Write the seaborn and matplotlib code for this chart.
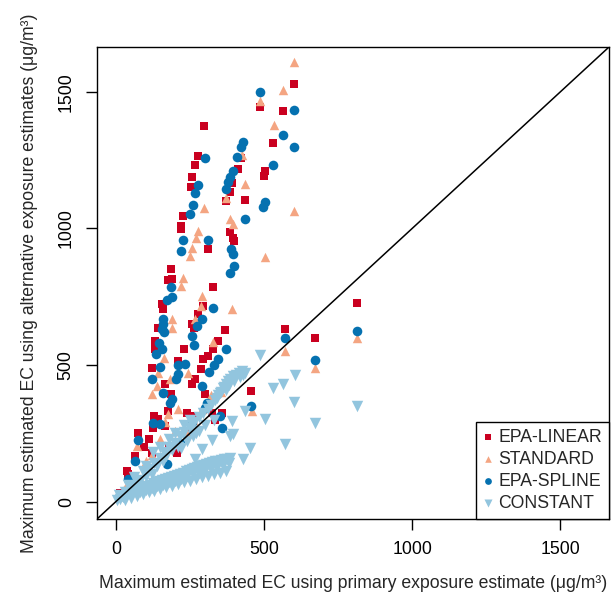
import matplotlib
matplotlib.use("Agg")
import matplotlib.pyplot as plt
import pandas as pd
import seaborn as sns

# (primary estimate, alternative estimate) pairs, µg/m3
EPA_LINEAR = [
    (602, 1529), (486, 1444), (565, 1431), (298, 1374), (531, 1312), (276, 1266),
    (422, 1257), (267, 1232), (413, 1217), (503, 1209), (498, 1193), (258, 1189),
    (393, 1166), (252, 1153), (385, 1132), (371, 1101), (436, 1104), (227, 1046),
    (218, 1010), (218, 997), (385, 985), (396, 963), (399, 955), (312, 924),
    (186, 853), (188, 814), (175, 812), (327, 784), (293, 714), (154, 722),
    (160, 704), (276, 686), (256, 649), (264, 637), (143, 637), (368, 628),
    (132, 588), (346, 588), (132, 557), (231, 557), (329, 557), (312, 533),
    (210, 515), (295, 521), (121, 487), (287, 484), (267, 447), (256, 429),
    (166, 429), (186, 392), (312, 356), (357, 325), (129, 313), (166, 276),
    (267, 313), (75, 252), (64, 166), (42, 99), (14, 32), (143, 301),
    (126, 270), (177, 331), (239, 325), (244, 252), (205, 178), (323, 325),
    (455, 404), (430, 478), (571, 631), (672, 597), (815, 725), (36, 111),
    (180, 205), (121, 178), (335, 300), (300, 395), (95, 200), (110, 230),
]

STANDARD = [
    (602, 1609), (565, 1505), (486, 1468), (534, 1379), (427, 1269), (436, 1162),
    (371, 1113), (298, 1073), (601, 1065), (385, 1034), (396, 1016), (276, 989),
    (269, 963), (258, 927), (250, 900), (503, 894), (225, 820), (220, 790),
    (290, 753), (287, 716), (393, 703), (267, 670), (188, 667), (188, 637),
    (326, 583), (571, 551), (672, 490), (815, 597), (162, 527), (143, 472),
    (244, 472), (182, 447), (137, 423), (121, 392), (177, 319), (72, 205),
    (458, 331), (100, 150), (150, 230), (200, 260), (260, 300), (320, 390),
    (355, 400), (240, 250), (120, 170), (50, 80), (30, 50), (290, 340),
    (210, 340), (165, 290),
]

EPA_SPLINE = [
    (486, 1501), (602, 1435), (565, 1342), (428, 1315), (421, 1297), (602, 1299),
    (301, 1258), (410, 1263), (531, 1232), (394, 1211), (385, 1187), (379, 1169),
    (372, 1144), (276, 1160), (267, 1128), (259, 1087), (250, 1052), (436, 1034),
    (503, 1095), (496, 1077), (227, 957), (312, 957), (218, 918), (389, 924),
    (396, 906), (399, 863), (385, 836), (187, 784), (188, 747), (171, 738),
    (326, 707), (289, 670), (160, 667), (160, 649), (154, 631), (273, 643),
    (163, 619), (256, 606), (145, 582), (264, 573), (372, 557), (154, 557),
    (134, 539), (346, 522), (208, 499), (233, 502), (331, 499), (149, 494),
    (313, 475), (210, 466), (121, 450), (203, 450), (160, 399), (188, 374),
    (301, 344), (351, 313), (126, 289), (256, 292), (73, 227), (64, 148),
    (42, 83), (149, 282), (182, 362), (216, 215), (306, 362), (357, 270),
    (456, 350), (171, 136), (571, 598), (672, 517), (815, 625), (289, 423),
]

CONSTANT = [
    # scattered
    (486, 535), (605, 462), (565, 431), (531, 417), (601, 366), (815, 350),
    (672, 286), (503, 302), (436, 331), (391, 294), (396, 246), (430, 154),
    (571, 209), (453, 197), (385, 240), (267, 154), (323, 227), (289, 191),
    # cluster above the 1:1 line
    (360, 415), (370, 430), (378, 440), (386, 450), (395, 458), (405, 465),
    (415, 472), (425, 478), (435, 470), (365, 420), (380, 425), (400, 440),
    (420, 455), (430, 462), (372, 410), (350, 398), (340, 380),
    # band along the 1:1 line
    (20, 20), (40, 35), (60, 55), (80, 75), (100, 95), (110, 120), (130, 140),
    (150, 160), (165, 180), (180, 200), (200, 215), (215, 240), (230, 255),
    (250, 270), (265, 290), (280, 310), (295, 325), (310, 340), (320, 355),
    (335, 370), (345, 390), (355, 400), (120, 100), (140, 130), (160, 150),
    (190, 190), (210, 200), (240, 220), (260, 240), (280, 260), (300, 280),
    (330, 300), (250, 300), (230, 280), (200, 250), (180, 230), (150, 200),
    (90, 110), (70, 80), (125, 180), (170, 165), (220, 195), (270, 250),
    (60, 90), (40, 60), (100, 130),
    # lower band
    (5, 5), (15, 10), (25, 15), (35, 22), (45, 30), (55, 36), (65, 42),
    (75, 46), (85, 50), (95, 54), (105, 58), (115, 62), (125, 66), (135, 70),
    (145, 74), (155, 78), (165, 82), (175, 86), (185, 90), (195, 94),
    (205, 98), (215, 102), (225, 106), (235, 110), (245, 114), (255, 118),
    (265, 122), (275, 126), (285, 130), (295, 134), (305, 138), (315, 141),
    (325, 144), (335, 147), (345, 150), (355, 152), (365, 154), (375, 156),
    (385, 158), (30, 5), (50, 12), (70, 20), (90, 28), (110, 34), (130, 40),
    (150, 46), (170, 52), (190, 58), (210, 64), (230, 70), (250, 76),
    (270, 82), (290, 88), (310, 94), (330, 100), (350, 106), (370, 112),
    (80, 36), (100, 42), (120, 48), (140, 56), (160, 62), (180, 70),
    (200, 76), (220, 84), (240, 92), (260, 100), (280, 106), (300, 114),
    (320, 120), (340, 128), (360, 134), (380, 140), (10, 25), (30, 35),
    (50, 45),
]

METHODS = ["EPA-LINEAR", "STANDARD", "EPA-SPLINE", "CONSTANT"]
SERIES = [EPA_LINEAR, STANDARD, EPA_SPLINE, CONSTANT]
COLORS = ["#CA0020", "#F4A582", "#0571B0", "#92C5DE"]
MARKERS = ["s", "^", "o", "v"]
SIZES = [38, 46, 48, 68]

TICKS = [0, 500, 1000, 1500]
LIMS = (-64, 1664)
FS = 12.7

sns.set_theme(style="ticks")
plt.rcParams["font.family"] = ["Liberation Sans", "DejaVu Sans"]

fig = plt.figure(figsize=(6.11, 5.97), dpi=100)
ax = fig.add_axes([97 / 611, 78 / 597, 512 / 611, 472 / 597])

for name, pts, col, mk, sz in zip(METHODS, SERIES, COLORS, MARKERS, SIZES):
    df = pd.DataFrame(pts, columns=["primary", "alternative"])
    sns.scatterplot(data=df, x="primary", y="alternative", color=col, marker=mk,
                    s=sz, linewidth=0, ax=ax, label=name)

ax.axline((0, 0), slope=1, color="black", lw=1.1, zorder=1)

ax.set_xlim(*LIMS)
ax.set_ylim(*LIMS)
ax.set_xticks(TICKS)
ax.set_yticks(TICKS)
for sp in ax.spines.values():
    sp.set_color("black")
    sp.set_linewidth(1.0)
ax.tick_params(length=8, width=1, pad=8, labelsize=FS, colors="black")
plt.setp(ax.get_yticklabels(), rotation=90, va="center")

ax.set_xlabel("Maximum estimated EC using primary exposure estimate (μg/m³)",
              fontsize=FS, labelpad=12)
ax.set_ylabel("Maximum estimated EC using alternative exposure estimates (μg/m³)",
              fontsize=FS, labelpad=14)

leg = ax.legend(loc="lower right", frameon=True, fancybox=False, edgecolor="black",
                framealpha=1, borderaxespad=0, fontsize=FS, handlelength=0.5,
                handletextpad=0.35, borderpad=0.4, labelspacing=0.28, markerscale=0.7)
leg.get_frame().set_linewidth(1.0)

fig.savefig("out.png", dpi=100)
